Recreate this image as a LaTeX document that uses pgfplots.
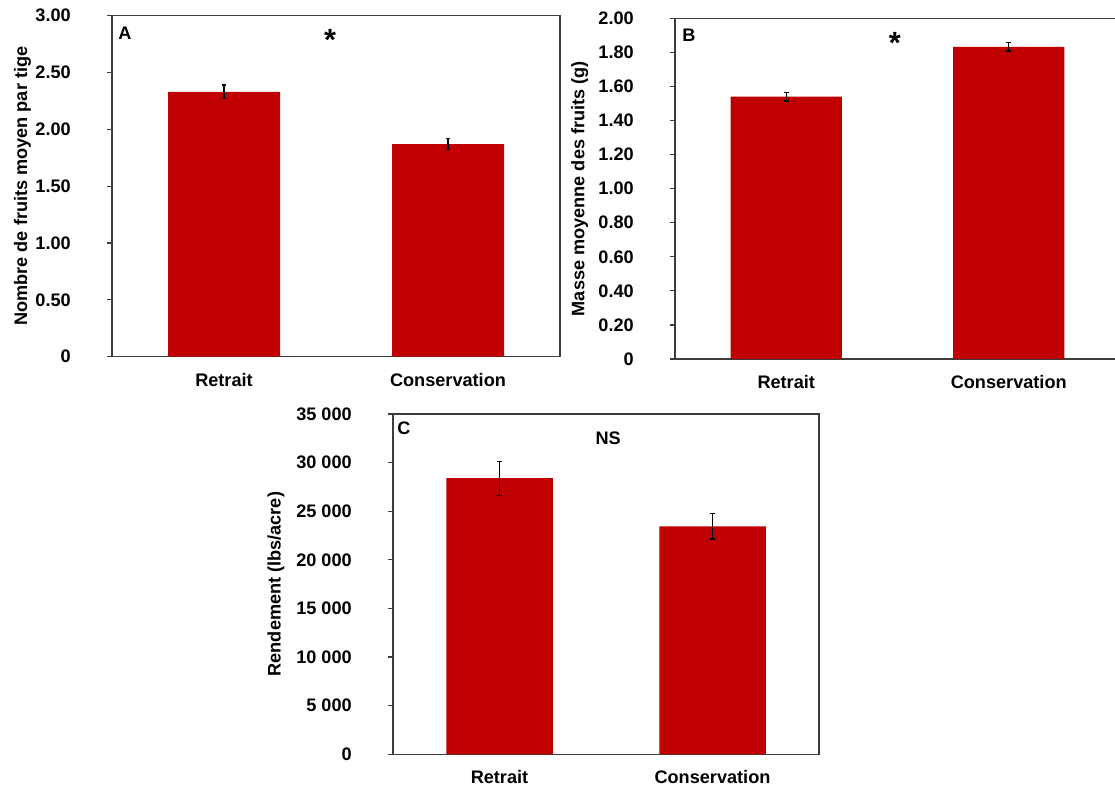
\documentclass[border=0pt]{standalone}
\usepackage{pgfplots}
\pgfplotsset{compat=1.18}
\usepackage{fontspec}
\setmainfont{Liberation Sans}
\definecolor{barred}{RGB}{192,0,0}
\definecolor{axgray}{RGB}{60,60,60}
\pgfplotsset{
  panel/.style={
    scale only axis,
    anchor=south west,
    ymin=0,
    xmin=-0.5, xmax=1.5,
    xtick={0,1}, xticklabels={Retrait,Conservation},
    tick align=outside,
    ytick pos=left,
    major tick length=3.75pt,
    x tick style={draw=none},
    y tick style={axgray, line width=0.9pt},
    axis line style={axgray, line width=1.1pt},
    scaled y ticks=false,
    tick label style={font=\fontsize{13.6}{15}\selectfont\bfseries},
    label style={font=\fontsize{13.6}{15}\selectfont\bfseries},
    yticklabel style={inner sep=0pt, anchor=east, xshift=-27pt},
    xticklabel style={inner sep=0pt, anchor=north, yshift=-8.5pt},
    /pgf/number format/assume math mode=true,
    clip=false,
  },
  barstyle/.style={
    ybar, bar width=0.5, fill=barred, draw=none,
    error bars/.cd, y dir=both, y explicit,
    error bar style={black, line width=0.9pt},
    error mark options={rotate=90, black, mark size=1.8pt, line width=0.9pt},
  },
}
\begin{document}
\begin{tikzpicture}
\path[use as bounding box] (0,0) rectangle (836.25pt,591pt);
% Panel A
\begin{axis}[panel, at={(84pt,323.5pt)}, width=336pt, height=255.75pt,
  ymax=3, ytick={0,0.5,1,1.5,2,2.5,3},
  yticklabels={0,0.50,1.00,1.50,2.00,2.50,3.00},
  ylabel={Nombre de fruits moyen par tige},
  ylabel style={at={(axis description cs:-0.2,0.5)}, anchor=center}]
\addplot[barstyle] coordinates {(0,2.33) +- (0,0.06) (1,1.87) +- (0,0.05)};
\node[anchor=north west, inner sep=0pt, font=\fontsize{13.6}{15}\selectfont\bfseries] at (rel axis cs:0,1) [xshift=4.5pt, yshift=-8.5pt] {A};
\node[anchor=north, inner sep=0pt, font=\fontsize{23}{25}\selectfont\bfseries] at (rel axis cs:0.487,1) [yshift=-10pt] {*};
\end{axis}
% Panel B
\begin{axis}[panel, at={(506.25pt,321.75pt)}, width=333.75pt, height=255.5pt,
  ymax=2, ytick={0,0.2,0.4,0.6,0.8,1,1.2,1.4,1.6,1.8,2},
  yticklabels={0,0.20,0.40,0.60,0.80,1.00,1.20,1.40,1.60,1.80,2.00},
  ylabel={Masse moyenne des fruits (g)},
  ylabel style={at={(axis description cs:-0.214,0.5)}, anchor=center}]
\addplot[barstyle] coordinates {(0,1.54) +- (0,0.025) (1,1.833) +- (0,0.025)};
\node[anchor=north west, inner sep=0pt, font=\fontsize{13.6}{15}\selectfont\bfseries] at (rel axis cs:0,1) [xshift=5.25pt, yshift=-7.5pt] {B};
\node[anchor=north, inner sep=0pt, font=\fontsize{23}{25}\selectfont\bfseries] at (rel axis cs:0.494,1) [yshift=-10.3pt] {*};
\end{axis}
% Panel C
\begin{axis}[panel, at={(294.75pt,25.3pt)}, width=319.5pt, height=255.2pt,
  ymax=35000, ytick={0,5000,10000,15000,20000,25000,30000,35000},
  yticklabels={0,5 000,10 000,15 000,20 000,25 000,30 000,35 000},
  ylabel={Rendement (lbs/acre)},
  ylabel style={at={(axis description cs:-0.275,0.5)}, anchor=center}]
\addplot[barstyle] coordinates {(0,28400) +- (0,1750) (1,23450) +- (0,1300)};
\node[anchor=north west, inner sep=0pt, font=\fontsize{13.6}{15}\selectfont\bfseries] at (rel axis cs:0,1) [xshift=3pt, yshift=-6pt] {C};
\node[anchor=north, inner sep=0pt, font=\fontsize{13.6}{15}\selectfont\bfseries] at (rel axis cs:0.505,1) [yshift=-13.5pt] {NS};
\end{axis}
\end{tikzpicture}
\end{document}
